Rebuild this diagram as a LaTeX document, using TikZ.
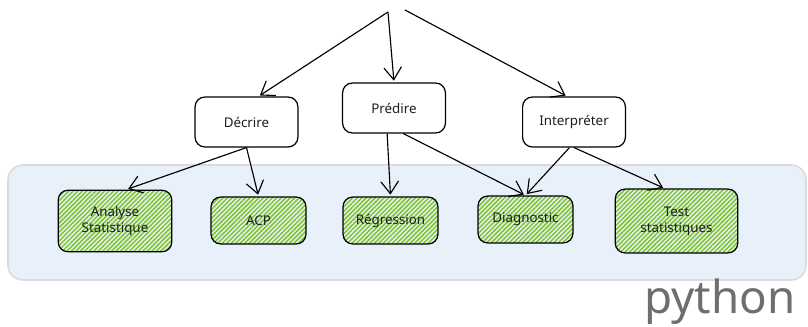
\documentclass[tikz,border=0pt]{standalone}
\usepackage{fontspec}
\setmainfont{Noto Sans}
\usetikzlibrary{arrows.meta,patterns.meta}
\definecolor{panelblue}{HTML}{E8F1FA}
\definecolor{panelgray}{HTML}{D8DCE0}
\definecolor{hachfill}{HTML}{DCEFC2}
\definecolor{hachline}{HTML}{7CC42A}
\definecolor{inkgray}{HTML}{1E1E1E}
\definecolor{pygray}{HTML}{6E6E6E}

\begin{document}
\begin{tikzpicture}[x=0.02cm,y=-0.02cm,
  >={Straight Barb[length=7pt,width=10pt]},
  task/.style={draw,rounded corners=5.5pt,line width=0.7pt,fill=white,
    text=inkgray,font=\fontsize{7.6}{9}\selectfont,align=center,
    minimum width=58.5pt,minimum height=28.4pt},
  tool/.style={task,fill=hachfill,
    pattern={Lines[angle=45,distance=1.8pt,line width=0.85pt]},pattern color=hachline},
  link/.style={->,line width=0.65pt,shorten >=1pt}]
\useasboundingbox (0,0) rectangle (808,327);
\fill[panelblue,draw=panelgray,line width=0.9pt,rounded corners=8.5pt] (8,165) rectangle (806,280);
\coordinate (top) at (388,12);
\coordinate (topr) at (405,10);
\node[task] (decrire) at (246.5,122){Décrire};
\node[task] (predire) at (394,108){Prédire};
\node[task] (interp) at (574,122){Interpréter};
\node[tool,minimum width=64.6pt,minimum height=35pt] (analyse) at (115,221){Analyse\\Statistique};
\node[tool,minimum width=54pt,minimum height=26.7pt] (acp) at (258.5,220.5){ACP};
\node[tool,minimum width=54pt,minimum height=26.7pt] (regr) at (390.5,220.5){Régression};
\node[tool,minimum width=54pt,minimum height=26.7pt] (diag) at (525.5,219.5){Diagnostic};
\node[tool,minimum width=69.7pt,minimum height=36.3pt] (test) at (676.5,221){Test\\statistiques};
\draw[link] (top) -- (decrire.65);
\draw[link] (top) -- (predire.north);
\draw[link] (topr) -- (interp.105);
\draw[link] (decrire.south) -- (analyse.70);
\draw[link] (decrire.south) -- (acp.north);
\draw[link] (predire.255) -- (regr.north);
\draw[link] (predire.290) -- (diag.north);
\draw[link] (interp.260) -- (diag.north);
\draw[link] (interp.south) -- (test.110);
\node[text=pygray,font=\fontsize{26}{30}\selectfont] (python) at (720,302){python};
\end{tikzpicture}
\end{document}
